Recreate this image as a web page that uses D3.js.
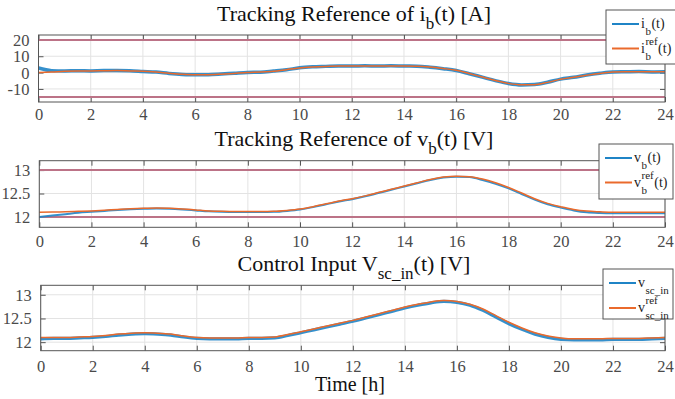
<!DOCTYPE html>
<html>
<head>
<meta charset="utf-8">
<script src="https://cdn.jsdelivr.net/npm/d3@7"></script>
<style>
  body { margin: 0; background: #fff; }
  svg { display: block; }
  svg text { font-family: 'Liberation Serif', 'Times New Roman', serif; }
</style>
</head>
<body>
<svg id="chart" width="675" height="399"></svg>
<script>
// time grid, every half hour
var hours = d3.range(0, 24.5, 0.5);
var xTicks = [0, 2, 4, 6, 8, 10, 12, 14, 16, 18, 20, 22, 24];

// battery current [A]
var ibRef = [0, 0.3, 0.8, 1.0, 1.0, 1.1, 1.2, 1.0, 0.8, 0.3, -0.4, -1.0, -1.3, -1.3, -1.0, -0.5,
  0.0, 0.3, 0.8, 1.8, 2.8, 3.4, 3.8, 4.0, 4.0, 4.1, 4.1, 4.1, 4.1, 3.9, 3.4, 2.5,
  1.4, -0.6, -2.7, -4.8, -6.6, -7.5, -7.4, -6.0, -4.1, -2.8, -1.6, -0.5, 0.3, 0.5, 0.5, 0.5, 0.5];
var ibMeas = [2.8, 1.2, 1.0, 1.1, 1.0, 1.2, 1.2, 1.1, 0.7, 0.3, -0.5, -1.1, -1.4, -1.3, -0.9, -0.4,
  0.1, 0.2, 0.9, 1.7, 2.9, 3.5, 3.8, 4.1, 4.0, 4.2, 4.0, 4.2, 4.0, 3.9, 3.3, 2.4,
  1.3, -0.7, -2.8, -4.9, -6.7, -7.6, -7.3, -5.9, -4.0, -2.9, -1.5, -0.4, 0.4, 0.5, 0.6, 0.4, 0.5];
var ibLimits = [20, -15];
var ibTicks = [-10, 0, 10, 20];

// battery voltage [V]
var vbRef = [12.10, 12.105, 12.11, 12.12, 12.13, 12.145, 12.16, 12.175, 12.185, 12.19, 12.185, 12.17,
  12.15, 12.13, 12.12, 12.115, 12.115, 12.115, 12.12, 12.14, 12.17, 12.22, 12.28, 12.34,
  12.39, 12.45, 12.52, 12.59, 12.66, 12.73, 12.80, 12.85, 12.87, 12.86, 12.81, 12.73,
  12.63, 12.51, 12.39, 12.29, 12.22, 12.16, 12.125, 12.11, 12.10, 12.10, 12.10, 12.10, 12.10];
var vbMeas = [12.00, 12.03, 12.06, 12.09, 12.11, 12.13, 12.15, 12.165, 12.175, 12.18, 12.175, 12.16,
  12.14, 12.12, 12.11, 12.105, 12.105, 12.105, 12.11, 12.13, 12.16, 12.21, 12.27, 12.33,
  12.38, 12.44, 12.51, 12.58, 12.65, 12.72, 12.79, 12.84, 12.86, 12.85, 12.79, 12.71,
  12.61, 12.49, 12.37, 12.27, 12.20, 12.14, 12.10, 12.085, 12.08, 12.08, 12.08, 12.08, 12.08];
var vbLimits = [13, 12];
var vTicks = [12, 12.5, 13];

// supercapacitor input voltage [V]
var vscRef = [12.10, 12.10, 12.10, 12.11, 12.12, 12.14, 12.17, 12.19, 12.20, 12.19, 12.17, 12.13,
  12.10, 12.09, 12.09, 12.09, 12.10, 12.10, 12.11, 12.16, 12.22, 12.28, 12.34, 12.40,
  12.46, 12.53, 12.60, 12.67, 12.74, 12.80, 12.85, 12.88, 12.86, 12.80, 12.70, 12.56,
  12.42, 12.30, 12.20, 12.13, 12.09, 12.07, 12.07, 12.07, 12.08, 12.08, 12.08, 12.09, 12.10];
var vscMeas = [12.07, 12.08, 12.08, 12.09, 12.10, 12.12, 12.15, 12.17, 12.18, 12.17, 12.15, 12.11,
  12.08, 12.07, 12.07, 12.07, 12.08, 12.08, 12.09, 12.14, 12.20, 12.26, 12.32, 12.38,
  12.44, 12.51, 12.58, 12.65, 12.72, 12.78, 12.83, 12.86, 12.84, 12.78, 12.67, 12.53,
  12.39, 12.27, 12.17, 12.10, 12.06, 12.05, 12.05, 12.05, 12.06, 12.06, 12.06, 12.07, 12.08];

var blue = "#1f84c6", orange = "#ea6a2c", limitColor = "#bc7387";
var serif = "'Liberation Serif', 'Times New Roman', serif";
// plain hyphen for negatives, like matlab
var plain = function(d) { return String(d); };

var svg = d3.select("#chart");

var panels = [
  { top: 35, bottom: 102, left: 38.5, domain: [-18, 23], ticks: ibTicks,
    meas: ibMeas, ref: ibRef, limits: ibLimits, titleY: 21, labelY: 120,
    title: [["Tracking Reference of i", 0], ["b", 1], ["(t) [A]", 0]],
    sym: "i", sub: "b", arg: "(t)", legend: { x: 606, y: 10, w: 72, h: 54 }, measW: 3.5 },
  { top: 160.7, bottom: 227.3, left: 39.3, domain: [11.78, 13.2], ticks: vTicks,
    meas: vbMeas, ref: vbRef, limits: vbLimits, titleY: 146, labelY: 247,
    title: [["Tracking Reference of  v", 0], ["b", 1], ["(t) [V]", 0]],
    sym: "v", sub: "b", arg: "(t)", legend: { x: 599, y: 144, w: 74, h: 55 }, measW: 2 },
  { top: 285.3, bottom: 350.7, left: 40.7, domain: [11.82, 13.2], ticks: vTicks,
    meas: vscMeas, ref: vscRef, limits: [], titleY: 271, labelY: 372,
    title: [["Control Input V", 0], ["sc_in", 1], ["(t) [V]", 0]],
    sym: "v", sub: "sc_in", arg: "", legend: { x: 603, y: 269, w: 70, h: 50 }, measW: 3.2 }
];

var right = 665;

panels.forEach(function(p, pi) {
  var x = d3.scaleLinear().domain([0, 24]).range([p.left, right]);
  var y = d3.scaleLinear().domain(p.domain).range([p.bottom, p.top]);
  var g = svg.append("g");

  // grid
  g.selectAll(".vg").data(xTicks).enter().append("line")
    .attr("x1", function(d) { return x(d); }).attr("x2", function(d) { return x(d); })
    .attr("y1", p.top).attr("y2", p.bottom)
    .attr("stroke", "#e3e3e3").attr("stroke-width", 1);
  g.selectAll(".hg").data(p.ticks).enter().append("line")
    .attr("x1", p.left).attr("x2", right)
    .attr("y1", function(d) { return y(d); }).attr("y2", function(d) { return y(d); })
    .attr("stroke", "#e3e3e3").attr("stroke-width", 1);

  // axes with inward ticks, MATLAB-ish box
  var ax = d3.axisBottom(x).tickValues(xTicks).tickSize(-5).tickPadding(11).tickFormat(plain);
  var gx = g.append("g").attr("transform", "translate(0," + p.bottom + ")").call(ax);
  var axT = d3.axisTop(x).tickValues(xTicks).tickSize(-5).tickFormat("");
  var gxt = g.append("g").attr("transform", "translate(0," + p.top + ")").call(axT);
  var ay = d3.axisLeft(y).tickValues(p.ticks).tickSize(-5).tickPadding(9).tickFormat(plain);
  var gy = g.append("g").attr("transform", "translate(" + p.left + ",0)").call(ay);
  var ayR = d3.axisRight(y).tickValues(p.ticks).tickSize(-5).tickFormat("");
  var gyr = g.append("g").attr("transform", "translate(" + right + ",0)").call(ayR);
  [gx, gxt, gy, gyr].forEach(function(a) {
    a.attr("font-family", serif).attr("font-size", 16.5);
    a.select(".domain").remove();
    a.selectAll(".tick line").attr("stroke", "#555");
    a.selectAll("text").attr("fill", "#4a4a4a");
  });
  gx.selectAll("text").attr("dy", null).attr("y", p.labelY - p.bottom);
  gy.selectAll("text").attr("dy", "0.33em");

  // limit lines
  g.selectAll(".lim").data(p.limits).enter().append("line")
    .attr("x1", p.left).attr("x2", right)
    .attr("y1", function(d) { return y(d); }).attr("y2", function(d) { return y(d); })
    .attr("stroke", limitColor).attr("stroke-width", 2);

  var line = d3.line()
    .x(function(d, i) { return x(hours[i]); })
    .y(function(d) { return y(d); })
    .curve(d3.curveMonotoneX);

  g.append("path").datum(p.meas).attr("d", line)
    .attr("fill", "none").attr("stroke", blue).attr("stroke-width", p.measW).attr("opacity", 0.9);
  g.append("path").datum(p.ref).attr("d", line)
    .attr("fill", "none").attr("stroke", orange).attr("stroke-width", 1.5);

  // frame
  g.append("rect").attr("x", p.left).attr("y", p.top)
    .attr("width", right - p.left).attr("height", p.bottom - p.top)
    .attr("fill", "none").attr("stroke", "#555").attr("stroke-width", 1);

  // title
  var t = svg.append("text").attr("x", 354).attr("y", p.titleY)
    .attr("text-anchor", "middle").attr("fill", "#111").attr("font-family", serif).style("font-size", "22px");
  p.title.forEach(function(part) {
    var s = t.append("tspan").text(part[0]);
    if (part[1]) s.attr("dy", 8).style("font-size", "17px");
    else if (s.node().previousSibling) s.attr("dy", -8);
  });

  // legend
  var L = p.legend;
  var lg = svg.append("g").attr("font-family", serif);
  lg.append("rect").attr("x", L.x).attr("y", L.y).attr("width", L.w).attr("height", L.h)
    .attr("fill", "#fff").attr("stroke", "#555").attr("stroke-width", 1);
  var rows = [{ c: blue, ref: false }, { c: orange, ref: true }];
  rows.forEach(function(r, ri) {
    var ly = L.y + (pi === 2 ? 14 + ri * 25 : 14 + ri * 24.5);
    lg.append("line").attr("x1", L.x + 6).attr("x2", L.x + 33).attr("y1", ly).attr("y2", ly)
      .attr("stroke", r.c).attr("stroke-width", 2);
    var tx = L.x + 35;
    var base = ly + 4;
    var main = lg.append("text").attr("x", tx).attr("y", base).style("font-size", "14px")
      .attr("fill", "#222").text(p.sym);
    var mw = main.node().getComputedTextLength();
    var sub = lg.append("text").attr("x", tx + mw + 0.5).attr("y", base + 7)
      .style("font-size", "11px").attr("fill", "#222").text(p.sub);
    var w = sub.node().getComputedTextLength();
    if (r.ref) {
      var sup = lg.append("text").attr("x", tx + mw + 0.5).attr("y", base - 8)
        .style("font-size", "11px").attr("fill", "#222").text("ref");
      w = Math.max(w, sup.node().getComputedTextLength());
    }
    if (p.arg) {
      lg.append("text").attr("x", tx + mw + w + 1).attr("y", base).style("font-size", "14px")
        .attr("fill", "#222").text(p.arg);
    }
  });
});

svg.append("text").attr("x", 350).attr("y", 391).attr("text-anchor", "middle")
  .attr("font-family", serif).attr("fill", "#111").style("font-size", "20px").text("Time [h]");
</script>
</body>
</html>
